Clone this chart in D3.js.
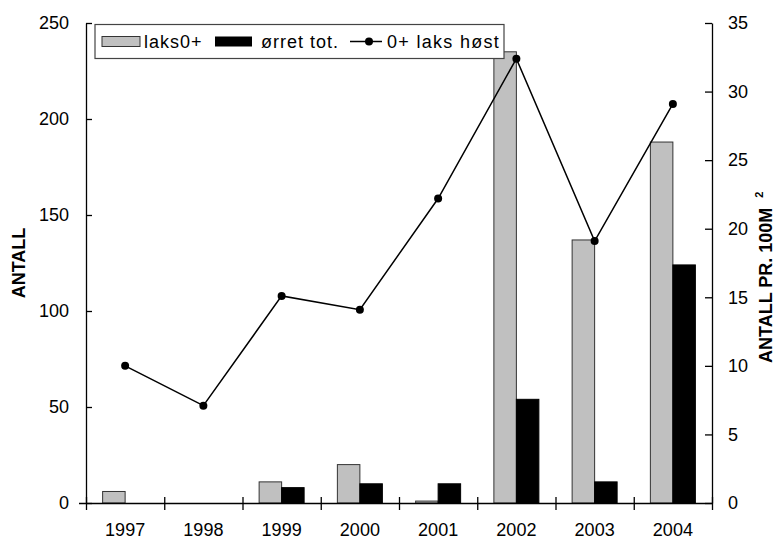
<!DOCTYPE html>
<html><head><meta charset="utf-8">
<script src="https://cdn.jsdelivr.net/npm/d3@7"></script>
<style>body{margin:0;background:#fff}svg{display:block}text{font-family:"Liberation Sans",Arial,sans-serif}</style>
</head><body><svg id="c" width="776" height="539"></svg>
<script>
const years = ["1997","1998","1999","2000","2001","2002","2003","2004"];
const laks0 = [6, 0, 11, 20, 1, 235, 137, 188];
const orret = [0, 0, 8, 10, 10, 54, 11, 124];
const laksHost = [10, 7.1, 15.1, 14.1, 22.2, 32.4, 19.1, 29.1];
const leftTicks = [0, 50, 100, 150, 200, 250];
const rightTicks = [0, 5, 10, 15, 20, 25, 30, 35];
const seriesNames = ["laks0+", "ørret tot.", "0+ laks høst"];

const svg = d3.select("#c");
const X0 = 86, X1 = 712, Y0 = 503, Y1 = 23;
const x = d3.scaleBand().domain(years).range([X0, X1]).padding(0);
const yL = d3.scaleLinear().domain([0, 250]).range([Y0, Y1]);
const yR = d3.scaleLinear().domain([0, 35]).range([Y0, Y1]);
const bw = x.bandwidth() * 0.2875;
const FS = "18px";

// bars
svg.append("g").selectAll("rect").data(years).join("rect")
  .attr("x", d => x(d) + x.bandwidth()/2 - bw)
  .attr("y", (d,i) => yL(laks0[i]))
  .attr("width", bw)
  .attr("height", (d,i) => Y0 - yL(laks0[i]))
  .attr("fill", "#c0c0c0").attr("stroke", "#333").attr("stroke-width", 1)
  .style("display", (d,i) => laks0[i] > 0 ? null : "none");
svg.append("g").selectAll("rect").data(years).join("rect")
  .attr("x", d => x(d) + x.bandwidth()/2)
  .attr("y", (d,i) => yL(orret[i]))
  .attr("width", bw)
  .attr("height", (d,i) => Y0 - yL(orret[i]))
  .attr("fill", "#000").attr("stroke", "#000").attr("stroke-width", 1)
  .style("display", (d,i) => orret[i] > 0 ? null : "none");

// axes
function styleAxis(g) {
  g.selectAll("path").attr("stroke", "#000").attr("stroke-width", 1.3);
  g.selectAll("line").attr("stroke", "#000").attr("stroke-width", 1.3);
  g.selectAll("text").attr("fill", "#000").style("font-size", FS).style("font-family", '"Liberation Sans",Arial,sans-serif');
}
const gL = svg.append("g").attr("transform", `translate(${X0},0)`)
  .call(d3.axisLeft(yL).tickValues(leftTicks).tickSize(7).tickPadding(10).tickSizeOuter(0));
gL.selectAll(".tick line").attr("x2", 6);
styleAxis(gL);
const gR = svg.append("g").attr("transform", `translate(${X1},0)`)
  .call(d3.axisRight(yR).tickValues(rightTicks).tickSize(6).tickPadding(10).tickSizeOuter(0));
gR.selectAll(".tick line").attr("x2", -7);
styleAxis(gR);
// x axis tick marks at band boundaries
const xb = d3.scaleLinear().domain([0, years.length]).range([X0, X1]);
const gXt = svg.append("g").attr("transform", `translate(0,${Y0})`)
  .call(d3.axisBottom(xb).tickValues(d3.range(years.length + 1)).tickFormat("").tickSize(7).tickSizeOuter(0));
gXt.selectAll(".tick line").attr("y1", -6);
styleAxis(gXt);
gXt.select("path").attr("d", `M${X0 - 7},0.5H${X1}`);
const gX = svg.append("g").attr("transform", `translate(0,${Y0})`)
  .call(d3.axisBottom(x).tickSize(0).tickPadding(20));
gX.select("path").remove();
styleAxis(gX);

// line
const line = d3.line().x((d,i) => x(years[i]) + x.bandwidth()/2).y(d => yR(d));
svg.append("path").datum(laksHost).attr("d", line).attr("fill", "none").attr("stroke", "#000").attr("stroke-width", 1.5);
svg.append("g").selectAll("circle").data(laksHost).join("circle")
  .attr("cx", (d,i) => x(years[i]) + x.bandwidth()/2).attr("cy", d => yR(d)).attr("r", 4).attr("fill", "#000");

// axis titles
svg.append("text").attr("transform", `translate(25,${(Y0+Y1)/2}) rotate(-90)`)
  .attr("text-anchor", "middle").style("font-size", FS).style("font-weight", "bold").text("ANTALL");
const rt = svg.append("text").attr("transform", `translate(772,363) rotate(-90)`)
  .attr("text-anchor", "start").style("font-size", FS).style("font-weight", "bold");
rt.append("tspan").text("ANTALL PR. 100M");
rt.append("tspan").attr("dx", 10).attr("dy", -9).style("font-size", "11px").text("2");

// legend
const lg = svg.append("g");
lg.append("rect").attr("x", 95).attr("y", 24.5).attr("width", 409).attr("height", 34)
  .attr("fill", "#fff").attr("stroke", "#444").attr("stroke-width", 1.2);
lg.append("rect").attr("x", 102).attr("y", 36.5).attr("width", 38).attr("height", 10)
  .attr("fill", "#c0c0c0").attr("stroke", "#333").attr("stroke-width", 1);
lg.append("text").attr("x", 144).attr("y", 48).style("font-size", FS).style("letter-spacing", "1px").text(seriesNames[0]);
lg.append("rect").attr("x", 215).attr("y", 36.5).attr("width", 37).attr("height", 10).attr("fill", "#000");
lg.append("text").attr("x", 261).attr("y", 48).style("font-size", FS).style("letter-spacing", "1px").text(seriesNames[1]);
lg.append("line").attr("x1", 350).attr("x2", 382).attr("y1", 41.5).attr("y2", 41.5).attr("stroke", "#000").attr("stroke-width", 1.5);
lg.append("circle").attr("cx", 369).attr("cy", 41.5).attr("r", 4).attr("fill", "#000");
lg.append("text").attr("x", 387).attr("y", 48).style("font-size", FS).style("letter-spacing", "1.3px").text(seriesNames[2]);
</script></body></html>
